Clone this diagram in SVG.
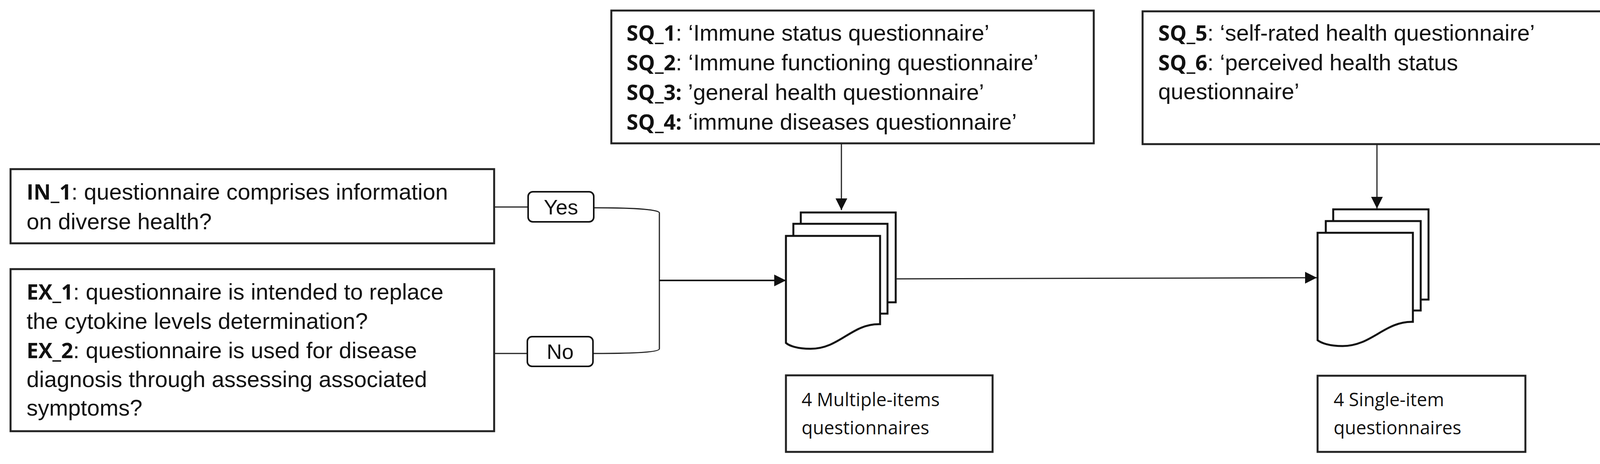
<svg xmlns="http://www.w3.org/2000/svg" width="4196" height="1188" viewBox="0 0 4196 1188">
<style>
.box{fill:#fff;stroke:#222;stroke-width:5}
.doc{fill:#fff;stroke:#111;stroke-width:5}
.pill{fill:#fff;stroke:#111;stroke-width:4}
.t{font-family:"Liberation Sans",Arial,sans-serif;font-size:58px;fill:#111}
.b{font-family:"Open Sans","Liberation Sans",sans-serif;font-weight:bold;font-size:54px}
.s{font-family:"Open Sans","Liberation Sans",sans-serif;font-size:47px;fill:#111}
.ln{fill:none;stroke:#222;stroke-width:3}
</style>
<defs>
<marker id="ah2" viewBox="0 0 10 10" refX="10" refY="5" markerWidth="30" markerHeight="30" markerUnits="userSpaceOnUse" orient="auto"><path d="M0,0L10,5L0,10z" fill="#111"/></marker>
</defs>
<g id="in1">
<rect class="box" x="27" y="433" width="1238" height="190"/>
<text class="t" x="68" y="511"><tspan class="b">IN_1</tspan>: questionnaire comprises information</text>
<text class="t" x="68" y="587">on diverse health?</text>
</g>
<g id="ex">
<rect class="box" x="27" y="689" width="1238" height="415"/>
<text class="t" x="68" y="767"><tspan class="b">EX_1</tspan>: questionnaire is intended to replace</text>
<text class="t" x="68" y="842">the cytokine levels determination?</text>
<text class="t" x="68" y="917"><tspan class="b">EX_2</tspan>: questionnaire is used for disease</text>
<text class="t" x="68" y="991">diagnosis through assessing associated</text>
<text class="t" x="68" y="1064">symptoms?</text>
</g>
<g id="sq14">
<rect class="box" x="1565" y="27" width="1235" height="340"/>
<text class="t" x="1604" y="104"><tspan class="b">SQ_1</tspan>: ‘Immune status questionnaire’</text>
<text class="t" x="1604" y="180"><tspan class="b">SQ_2</tspan>: ‘Immune functioning questionnaire’</text>
<text class="t" x="1604" y="256"><tspan class="b">SQ_3:</tspan> ’general health questionnaire’</text>
<text class="t" x="1604" y="332"><tspan class="b">SQ_4:</tspan> ‘immune diseases questionnaire’</text>
</g>
<g id="sq56">
<rect class="box" x="2925" y="29" width="1241" height="340"/>
<text class="t" x="2965" y="104"><tspan class="b">SQ_5</tspan>: ‘self-rated health questionnaire’</text>
<text class="t" x="2965" y="180"><tspan class="b">SQ_6</tspan>: ‘perceived health status</text>
<text class="t" x="2965" y="254">questionnaire’</text>
</g>
<g id="docs1">
<rect class="doc" x="2050" y="544" width="243" height="230"/>
<rect class="doc" x="2031" y="573" width="241" height="230"/>
<path class="doc" d="M2012,604H2253V830C2180,828 2150,893 2075,893C2040,893 2020,885 2012,878Z"/>
</g>
<g id="docs2">
<rect class="doc" x="3413" y="536" width="244" height="231"/>
<rect class="doc" x="3394" y="566" width="243" height="229"/>
<path class="doc" d="M3373,596H3617V824C3545,822 3512,886 3437,886C3402,886 3382,878 3373,871Z"/>
</g>
<g id="lbl1">
<rect class="box" x="2012" y="961" width="529" height="196"/>
<text class="s" x="2052" y="1040">4 Multiple-items</text>
<text class="s" x="2052" y="1112">questionnaires</text>
</g>
<g id="lbl2">
<rect class="box" x="3373" y="962" width="532" height="195"/>
<text class="s" x="3414" y="1040">4 Single-item</text>
<text class="s" x="3414" y="1112">questionnaires</text>
</g>
<g id="connectors">
<path class="ln" d="M1265,530H1352"/>
<path class="ln" d="M1265,905H1350"/>
<path class="ln" d="M1520,532C1600,532 1688,535 1688,545V893C1688,903 1600,905 1518,905"/>
<path fill="none" stroke="#111" stroke-width="4" d="M1688,718H2012" marker-end="url(#ah2)"/>
<path class="ln" d="M2154,367V538" marker-end="url(#ah2)"/>
<path class="ln" d="M3525,369V534" marker-end="url(#ah2)"/>
<path class="ln" d="M2293,714L3371,711" marker-end="url(#ah2)"/>
</g>
<g id="yes">
<rect class="pill" x="1352" y="491" width="168" height="77" rx="12"/>
<text class="t" x="1436" y="549" text-anchor="middle" style="font-size:54px">Yes</text>
</g>
<g id="no">
<rect class="pill" x="1350" y="862" width="168" height="76" rx="12"/>
<text class="t" x="1434" y="919" text-anchor="middle" style="font-size:54px">No</text>
</g>
</svg>
